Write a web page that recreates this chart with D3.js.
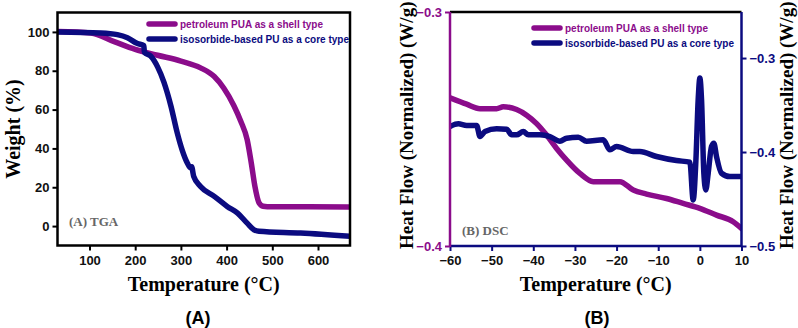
<!DOCTYPE html>
<html>
<head>
<meta charset="utf-8">
<script src="https://cdn.jsdelivr.net/npm/d3@7"></script>
<style>
  body { margin: 0; background: #fff; }
  svg { display: block; }
</style>
</head>
<body>
<svg id="chart" width="798" height="328"></svg>
<script>
// ---- data ----
// (A) TGA : [temperature C, weight %]
const tgaShell = [
    [30, 100.2], [103, 99.5], [154, 95], [200, 91], [249, 88], [300, 85], [343, 81.5],
    [373, 77], [394, 71], [416, 62], [431, 54], [445, 44.5], [454, 32.5], [462, 20.4],
    [471, 12], [480, 10.2], [489, 10], [580, 9.9], [670, 9.8]
];
const tgaCore = [
    [30, 100], [125, 99.5], [161, 98.6], [183, 97], [205, 94], [219, 93], [220, 89.5],
    [234, 87.5], [249, 82], [263, 74], [278, 62], [292, 48], [303, 39], [314, 32.5],
    [321, 30], [324, 30.5], [326, 28], [328, 25.6], [343, 20.4], [373, 15.3], [402, 10],
    [424, 6.7], [445, 1.5], [460, -1.9], [471, -2.7], [562, -3.6], [670, -5.3]
];
// (B) DSC : [temperature C, heat flow W/g]
const dscShell = [
    [-60, -0.3367], [-56, -0.3394], [-52.8, -0.3413], [-48.8, -0.3413], [-47.2, -0.3405],
    [-44, -0.3417], [-41.6, -0.3441], [-39.2, -0.3477], [-36.8, -0.3526], [-34.4, -0.3583],
    [-32, -0.3633], [-28.8, -0.3690], [-25.6, -0.3725], [-19.2, -0.3725], [-16, -0.3761],
    [-12.8, -0.3778], [-8, -0.3797], [-4, -0.3818], [0, -0.3839], [4, -0.3868],
    [8, -0.3896], [10, -0.3925]
];
const dscCore = [
    [-60, -0.3728], [-58, -0.3700], [-56, -0.3718], [-53.6, -0.3718], [-52.8, -0.3835],
    [-51.6, -0.3782], [-48.8, -0.3753], [-46.4, -0.3757], [-45.2, -0.3817], [-44, -0.3817],
    [-42.4, -0.3782], [-41.2, -0.3817], [-38.4, -0.3817], [-36, -0.3835], [-33.6, -0.3885],
    [-32, -0.3853], [-29.2, -0.3842], [-27.2, -0.3885], [-23.2, -0.3870], [-21.6, -0.3977],
    [-20, -0.3941], [-16, -0.3995], [-14.4, -0.3995], [-10.4, -0.4048], [-5.6, -0.4091],
    [-2.4, -0.4108], [-1.6, -0.451], [-0.96, -0.41], [-0.4, -0.344], [0, -0.3213],
    [0.4, -0.344], [0.96, -0.4226], [1.44, -0.4403], [2, -0.4226], [2.8, -0.3941],
    [3.36, -0.3906], [4, -0.4048], [5.2, -0.4226], [7.2, -0.4261], [10, -0.4261]
];

const seriesNames = ['petroleum PUA as a shell type', 'isosorbide-based PU as a core type'];
const tgaXTicks = [100, 200, 300, 400, 500, 600];
const tgaYTicks = [0, 20, 40, 60, 80, 100];
const dscXTicks = [-60, -50, -40, -30, -20, -10, 0, 10];
const dscLeftTicks = [-0.4, -0.3];
const dscRightTicks = [-0.5, -0.4, -0.3];

const PURPLE = '#8b0c8b';
const NAVY = '#0b0b80';
const SANS = '"Liberation Sans", Arial, sans-serif';
const SERIF = '"Liberation Serif", "Times New Roman", serif';

const svg = d3.select('#chart');

function styleAxis(g, color, labelColor) {
    g.select('.domain').remove();
    g.selectAll('.tick line').attr('stroke', color).attr('stroke-width', 2);
    g.selectAll('.tick text')
        .attr('fill', labelColor)
        .style('font-family', SANS)
        .style('font-weight', 'bold')
        .style('font-size', '13px');
}

function legend(g, x, y) {
    const colors = [PURPLE, NAVY];
    seriesNames.forEach((name, i) => {
        const yy = y + i * 15;
        g.append('line')
            .attr('x1', x).attr('x2', x + 26)
            .attr('y1', yy).attr('y2', yy)
            .attr('stroke', colors[i]).attr('stroke-width', 5.5)
            .attr('stroke-linecap', 'round');
        g.append('text')
            .attr('x', x + 31).attr('y', yy + 3.5)
            .attr('fill', colors[i])
            .style('font-family', SANS).style('font-weight', 'bold').style('font-size', '10px')
            .text(name);
    });
}

function drawLine(g, data, x, y, color) {
    g.append('path')
        .datum(data)
        .attr('fill', 'none')
        .attr('stroke', color)
        .attr('stroke-width', 5.5)
        .attr('stroke-linejoin', 'round')
        .attr('stroke-linecap', 'round')
        .attr('d', d3.line().x(d => x(d[0])).y(d => y(d[1])).curve(d3.curveMonotoneX));
}

// ---------------- (A) TGA ----------------
{
    const L = 57.5, R = 350, T = 12.5, B = 245.5;
    const x = d3.scaleLinear().domain([30, 670]).range([L, R]);
    const y = d3.scaleLinear().domain([-10, 110]).range([B, T]);

    svg.append('clipPath').attr('id', 'clipA')
        .append('rect').attr('x', L).attr('y', T).attr('width', R - L).attr('height', B - T);

    const gx = svg.append('g').attr('transform', `translate(0,${B})`)
        .call(d3.axisBottom(x).tickValues(tgaXTicks).tickSize(5).tickPadding(5));
    styleAxis(gx, '#000', '#111');
    const gy = svg.append('g').attr('transform', `translate(${L},0)`)
        .call(d3.axisLeft(y).tickValues(tgaYTicks).tickSize(5).tickPadding(3));
    styleAxis(gy, '#000', '#111');

    const plot = svg.append('g').attr('clip-path', 'url(#clipA)');
    drawLine(plot, tgaShell, x, y, PURPLE);
    drawLine(plot, tgaCore, x, y, NAVY);

    svg.append('rect')
        .attr('x', L).attr('y', T).attr('width', R - L).attr('height', B - T)
        .attr('fill', 'none').attr('stroke', '#000').attr('stroke-width', 2.5);

    legend(svg, 149, 24);

    svg.append('text').attr('x', 69).attr('y', 226)
        .attr('fill', '#666')
        .style('font-family', SERIF).style('font-weight', 'bold').style('font-size', '13px')
        .text('(A) TGA');

    svg.append('text').attr('x', (L + R) / 2).attr('y', 291)
        .attr('text-anchor', 'middle')
        .style('font-family', SERIF).style('font-weight', 'bold').style('font-size', '20px')
        .text('Temperature (°C)');
    svg.append('text').attr('transform', `translate(20,${(T + B) / 2}) rotate(-90)`)
        .attr('text-anchor', 'middle')
        .style('font-family', SERIF).style('font-weight', 'bold').style('font-size', '20px')
        .text('Weight (%)');
    svg.append('text').attr('x', 198).attr('y', 324)
        .attr('text-anchor', 'middle')
        .style('font-family', SANS).style('font-weight', 'bold').style('font-size', '18px')
        .text('(A)');
}

// ---------------- (B) DSC ----------------
{
    const L = 450, R = 741.5, T = 12, B = 246;
    const x = d3.scaleLinear().domain([-60, 10]).range([L, R]);
    const yL = d3.scaleLinear().domain([-0.4, -0.3]).range([B, T]);
    const yR = d3.scaleLinear().domain([-0.5, -0.251]).range([B, T]);

    svg.append('clipPath').attr('id', 'clipB')
        .append('rect').attr('x', L).attr('y', T).attr('width', R - L).attr('height', B - T);

    const gx = svg.append('g').attr('transform', `translate(0,${B})`)
        .call(d3.axisBottom(x).tickValues(dscXTicks).tickSize(5).tickPadding(5));
    styleAxis(gx, NAVY, '#111');
    const gl = svg.append('g').attr('transform', `translate(${L},0)`)
        .call(d3.axisLeft(yL).tickValues(dscLeftTicks).tickSize(5).tickPadding(3)
            .tickFormat(d3.format('.1f')));
    styleAxis(gl, PURPLE, PURPLE);
    const gr = svg.append('g').attr('transform', `translate(${R},0)`)
        .call(d3.axisRight(yR).tickValues(dscRightTicks).tickSize(5).tickPadding(3)
            .tickFormat(d3.format('.1f')));
    styleAxis(gr, NAVY, NAVY);

    const plot = svg.append('g').attr('clip-path', 'url(#clipB)');
    drawLine(plot, dscShell, x, yL, PURPLE);
    drawLine(plot, dscCore, x, yR, NAVY);

    // spines
    svg.append('line').attr('x1', L).attr('x2', R).attr('y1', T).attr('y2', T)
        .attr('stroke', '#000').attr('stroke-width', 2.5);
    svg.append('line').attr('x1', L).attr('x2', R).attr('y1', B).attr('y2', B)
        .attr('stroke', NAVY).attr('stroke-width', 2.5);
    svg.append('line').attr('x1', L).attr('x2', L).attr('y1', T).attr('y2', B + 1)
        .attr('stroke', PURPLE).attr('stroke-width', 2.5);
    svg.append('line').attr('x1', R).attr('x2', R).attr('y1', T).attr('y2', B + 1)
        .attr('stroke', NAVY).attr('stroke-width', 2.5);

    legend(svg, 534, 28);

    svg.append('text').attr('x', 462).attr('y', 235)
        .attr('fill', '#666')
        .style('font-family', SERIF).style('font-weight', 'bold').style('font-size', '13px')
        .text('(B) DSC');

    svg.append('text').attr('x', (L + R) / 2).attr('y', 291)
        .attr('text-anchor', 'middle')
        .style('font-family', SERIF).style('font-weight', 'bold').style('font-size', '20px')
        .text('Temperature (°C)');
    svg.append('text').attr('transform', 'translate(413,249) rotate(-90)')
        .attr('text-anchor', 'start')
        .style('font-family', SERIF).style('font-weight', 'bold').style('font-size', '19px')
        .text('Heat Flow (Normalized) (W/g)');
    svg.append('text').attr('transform', 'translate(793,249) rotate(-90)')
        .attr('text-anchor', 'start')
        .style('font-family', SERIF).style('font-weight', 'bold').style('font-size', '19px')
        .text('Heat Flow (Normalized) (W/g)');
    svg.append('text').attr('x', 597).attr('y', 324)
        .attr('text-anchor', 'middle')
        .style('font-family', SANS).style('font-weight', 'bold').style('font-size', '18px')
        .text('(B)');
}
</script>
</body>
</html>
